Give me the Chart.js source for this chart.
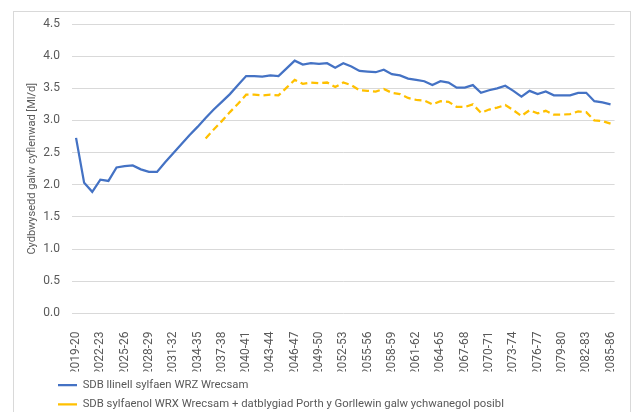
<!DOCTYPE html>
<html>
<head>
<meta charset="utf-8">
<script src="https://cdn.jsdelivr.net/npm/chart.js@4.4.1/dist/chart.umd.min.js"></script>
<style>
  html, body { margin: 0; padding: 0; background: #fff; overflow: hidden; }
  #wrap { position: relative; width: 635px; height: 412px; overflow: hidden; }
  #frame { position: absolute; left: 13px; top: 11px; width: 618px; height: 420px; border: 1px solid #d9d9d9; box-sizing: border-box; }
  #holder { position: absolute; left: 0; top: 0; width: 635px; height: 420px; }
</style>
</head>
<body>
<div id="wrap">
  <div id="frame"></div>
  <div id="holder"><canvas id="chart"></canvas></div>
</div>
<script>
// financial years 2019-20 .. 2085-86
const years = [];
for (let y = 2019; y <= 2085; y++) {
  years.push(y + '-' + String((y + 1) % 100).padStart(2, '0'));
}

const baseline = [
  2.73, 2.03, 1.89, 2.08, 2.06, 2.27, 2.29, 2.30, 2.24, 2.20,
  2.20, 2.35, 2.49, 2.63, 2.77, 2.90, 3.04, 3.17, 3.29, 3.41,
  3.55, 3.69, 3.69, 3.68, 3.70, 3.69, 3.81, 3.93, 3.87, 3.89,
  3.88, 3.89, 3.82, 3.89, 3.84, 3.77, 3.76, 3.75, 3.79, 3.72,
  3.70, 3.65, 3.63, 3.61, 3.55, 3.61, 3.59, 3.51, 3.51, 3.55,
  3.43, 3.47, 3.50, 3.54, 3.46, 3.37, 3.46, 3.41, 3.45, 3.39,
  3.39, 3.39, 3.43, 3.43, 3.30, 3.28, 3.25
];

const withWest = [
  null, null, null, null, null, null, null, null, null, null,
  null, null, null, null, null, null, 2.72, 2.86, 2.99, 3.13,
  3.26, 3.40, 3.40, 3.39, 3.40, 3.39, 3.51, 3.63, 3.57, 3.59,
  3.58, 3.59, 3.52, 3.59, 3.55, 3.47, 3.46, 3.45, 3.49, 3.43,
  3.41, 3.35, 3.32, 3.31, 3.25, 3.30, 3.29, 3.21, 3.21, 3.25,
  3.12, 3.17, 3.20, 3.24, 3.16, 3.07, 3.16, 3.11, 3.15, 3.09,
  3.09, 3.10, 3.14, 3.13, 3.00, 2.99, 2.95
];

const seriesNames = [
  'SDB llinell sylfaen WRZ Wrecsam',
  'SDB sylfaenol WRX Wrecsam + datblygiad Porth y Gorllewin galw ychwanegol posibl'
];

const grey = '#595959';
const family = 'Roboto, "Liberation Sans", sans-serif';
const font = { family: family, size: 12 };

// nudge the legend so it starts under the plot like the original
const legendShift = {
  id: 'legendShift',
  afterLayout(chart) {
    chart.legend.left = 50;
  }
};

new Chart(document.getElementById('chart'), {
  type: 'line',
  data: {
    labels: years,
    datasets: [{
      label: seriesNames[0],
      data: baseline,
      borderColor: '#4472C4',
      backgroundColor: '#4472C4',
      borderWidth: 2.25,
      pointRadius: 0,
      tension: 0
    }, {
      label: seriesNames[1],
      data: withWest,
      borderColor: '#FFC000',
      backgroundColor: '#FFC000',
      borderWidth: 2.25,
      borderDash: [7, 4],
      pointRadius: 0,
      tension: 0
    }]
  },
  options: {
    responsive: true,
    maintainAspectRatio: false,
    animation: false,
    layout: { padding: { top: 24, left: 14, right: 8, bottom: 0 } },
    plugins: {
      legend: {
        position: 'bottom',
        align: 'start',
        labels: {
          font: { family: family, size: 11.3 },
          color: grey,
          usePointStyle: true,
          pointStyle: 'line',
          pointStyleWidth: 19,
          padding: 8
        }
      },
      tooltip: { enabled: false }
    },
    scales: {
      x: {
        offset: true,
        grid: { display: false },
        border: { display: false },
        ticks: {
          font: font,
          color: grey,
          autoSkip: false,
          maxRotation: 90,
          minRotation: 90,
          padding: 10,
          callback: function(v, i) { return i % 3 === 0 ? years[i] : ''; }
        },
        afterFit(scale) { scale.height = 58; }
      },
      y: {
        min: 0,
        max: 4.5,
        grid: { color: '#d9d9d9', drawTicks: false },
        border: { display: false },
        ticks: {
          stepSize: 0.5,
          font: font,
          color: grey,
          padding: 12,
          callback: v => v.toFixed(1)
        },
        title: {
          display: true,
          text: 'Cydbwysedd galw cyflenwad [Ml/d]',
          font: { family: family, size: 11 },
          color: grey,
          padding: { top: 12, bottom: 4 }
        },
        afterFit(scale) { scale.width = 58; }
      }
    }
  },
  plugins: [legendShift]
});
</script>
</body>
</html>
